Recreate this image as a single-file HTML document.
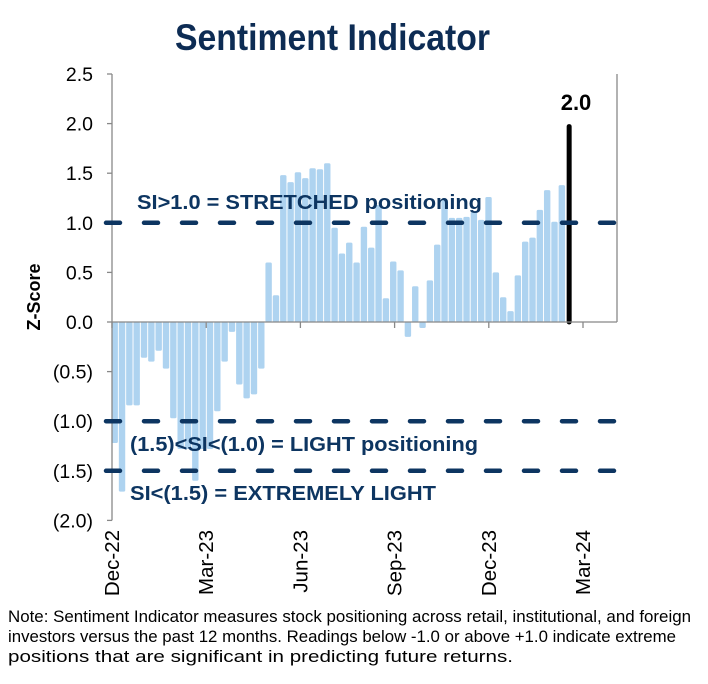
<!DOCTYPE html>
<html><head><meta charset="utf-8"><style>
body{margin:0;background:#fff;width:708px;height:679px;overflow:hidden;font-family:"Liberation Sans",sans-serif}
</style></head><body>
<svg id="chart" width="708" height="679" xmlns="http://www.w3.org/2000/svg" font-family="Liberation Sans, sans-serif">
<text x="175" y="50" textLength="315" lengthAdjust="spacingAndGlyphs" font-weight="bold" font-size="37" fill="#0d2c54">Sentiment Indicator</text>
<g id="bars"></g>
<g id="axes"></g>
<text transform="translate(40,297) rotate(-90)" text-anchor="middle" font-weight="bold" font-size="18" fill="#000">Z-Score</text>
<text x="137" y="209" textLength="345" lengthAdjust="spacingAndGlyphs" font-weight="bold" font-size="20" fill="#0d3561">SI&gt;1.0 = STRETCHED positioning</text>
<text x="130" y="451" textLength="348" lengthAdjust="spacingAndGlyphs" font-weight="bold" font-size="20" fill="#0d3561">(1.5)&lt;SI&lt;(1.0) = LIGHT positioning</text>
<text x="130" y="500" textLength="306" lengthAdjust="spacingAndGlyphs" font-weight="bold" font-size="20" fill="#0d3561">SI&lt;(1.5) = EXTREMELY LIGHT</text>
<text x="576" y="110" text-anchor="middle" font-weight="bold" font-size="22" fill="#000">2.0</text>
<text font-size="17" fill="#000">
<tspan x="8" y="622" textLength="683" lengthAdjust="spacingAndGlyphs">Note: Sentiment Indicator measures stock positioning across retail, institutional, and foreign</tspan>
<tspan x="8" y="642" textLength="668" lengthAdjust="spacingAndGlyphs">investors versus the past 12 months. Readings below -1.0 or above +1.0 indicate extreme</tspan>
<tspan x="8" y="662" textLength="505" lengthAdjust="spacingAndGlyphs">positions that are significant in predicting future returns.</tspan>
</text>
</svg>
<script>
const values = [-1.22,-1.71,-0.84,-0.84,-0.36,-0.40,-0.29,-0.47,-0.97,-1.28,-1.28,-1.60,-1.28,-1.28,-0.90,-0.40,-0.10,-0.63,-0.77,-0.73,-0.47,0.60,0.27,1.48,
1.41,1.51,1.45,1.55,1.54,1.60,0.95,0.69,0.80,0.60,0.96,0.75,1.18,0.24,0.61,0.52,-0.15,0.36,-0.06,0.42,0.78,
1.23,1.05,1.05,1.06,1.11,1.03,1.26,0.50,0.25,0.11,0.47,0.81,0.85,1.13,1.33,1.01,1.38];
const latestValue = 1.97;
const yTickValues = [2.5,2.0,1.5,1.0,0.5,0.0,-0.5,-1.0,-1.5,-2.0];
const yTickLabels = ["2.5","2.0","1.5","1.0","0.5","0.0","(0.5)","(1.0)","(1.5)","(2.0)"];
const xTickLabels = ["Dec-22","Mar-23","Jun-23","Sep-23","Dec-23","Mar-24"];
const thresholds = [1.0,-1.0,-1.5];

const NS="http://www.w3.org/2000/svg";
const x0=112, x1=617, step=7.33, qStep=94.2;
const y=v=>322-v*99.2;
const xb=i=>114.7+i*step;
function mk(t,a,p){const e=document.createElementNS(NS,t);for(const k in a)e.setAttribute(k,a[k]);p.appendChild(e);return e;}
const bars=document.getElementById('bars'), axes=document.getElementById('axes');
values.forEach((v,i)=>{
  const r=mk('rect',{x:xb(i)-3.2,y:Math.min(y(v),y(0)),width:6.4,height:Math.abs(y(v)-y(0)),fill:'#aed3f0',rx:1.5},bars);
  
  
});
const lb=mk('line',{x1:xb(values.length),x2:xb(values.length),y1:y(0),y2:y(latestValue),stroke:'#000','stroke-width':5,'stroke-linecap':'round'},bars);


mk('line',{x1:x0,x2:x0,y1:y(2.5),y2:y(-2.0),stroke:'#888','stroke-width':1.3},axes);
mk('line',{x1:x1,x2:x1,y1:y(2.5),y2:y(0),stroke:'#888','stroke-width':1.3},axes);
mk('line',{x1:x0,x2:x1,y1:y(0),y2:y(0),stroke:'#888','stroke-width':1.3},axes);
yTickValues.forEach((v,i)=>{
  mk('line',{x1:x0-5,x2:x0,y1:y(v),y2:y(v),stroke:'#888','stroke-width':1.3},axes);
  const t=mk('text',{x:93,y:y(v)+7,'text-anchor':'end','font-size':19.5,fill:'#000'},axes);
  t.textContent=yTickLabels[i];
  
  
});
xTickLabels.forEach((s,i)=>{
  const xx=x0+i*qStep;
  mk('line',{x1:xx,x2:xx,y1:y(0),y2:y(0)+6,stroke:'#888','stroke-width':1.3},axes);
  const t=mk('text',{transform:`translate(${xx+7},530) rotate(-90)`,'text-anchor':'end','font-size':20.5,fill:'#000'},axes);
  t.textContent=s;
  
  
});
thresholds.forEach(v=>{
  const l=mk('line',{x1:x0-6,x2:x1,y1:y(v),y2:y(v),stroke:'#0d3561','stroke-width':4.5,'stroke-dasharray':'14 24','stroke-linecap':'round'},axes);
  
  
});
</script>
</body></html>
